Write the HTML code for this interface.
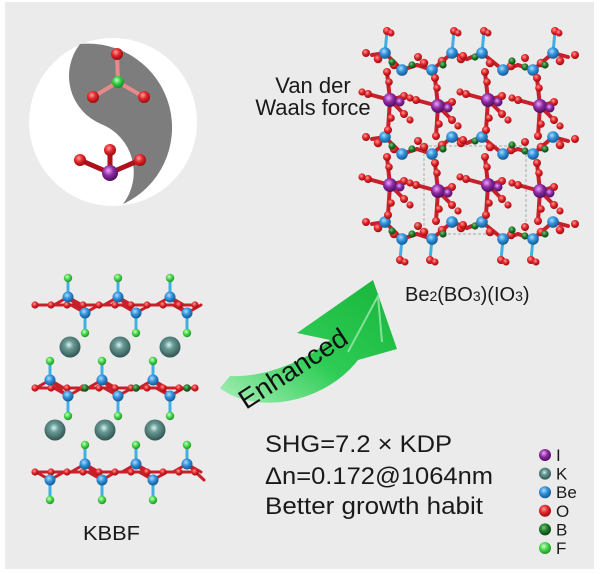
<!DOCTYPE html>
<html><head><meta charset="utf-8"><style>
html,body{margin:0;padding:0;background:#fff}
svg{display:block}
text{font-family:"Liberation Sans",sans-serif;fill:#1a1a1a}
</style></head><body>
<svg id="s" width="600" height="574" viewBox="0 0 600 574" xmlns="http://www.w3.org/2000/svg">
<defs>
<radialGradient id="gO" cx="40%" cy="35%" r="65%"><stop offset="0" stop-color="#ff9a9a"/><stop offset="0.5" stop-color="#e0262a"/><stop offset="1" stop-color="#9a0c10"/></radialGradient>
<radialGradient id="gBe" cx="40%" cy="35%" r="65%"><stop offset="0" stop-color="#a8dcff"/><stop offset="0.5" stop-color="#2f8fd8"/><stop offset="1" stop-color="#175a94"/></radialGradient>
<radialGradient id="gB" cx="40%" cy="35%" r="65%"><stop offset="0" stop-color="#7fc27f"/><stop offset="0.5" stop-color="#1f7a2a"/><stop offset="1" stop-color="#0b4412"/></radialGradient>
<radialGradient id="gBl" cx="40%" cy="35%" r="65%"><stop offset="0" stop-color="#c0ffc0"/><stop offset="0.5" stop-color="#33cc44"/><stop offset="1" stop-color="#1b8a26"/></radialGradient>
<radialGradient id="gF" cx="40%" cy="35%" r="65%"><stop offset="0" stop-color="#c8ffc8"/><stop offset="0.5" stop-color="#46d64a"/><stop offset="1" stop-color="#23942a"/></radialGradient>
<radialGradient id="gI" cx="40%" cy="35%" r="65%"><stop offset="0" stop-color="#f0a0ff"/><stop offset="0.5" stop-color="#8a2a9e"/><stop offset="1" stop-color="#4e0f5e"/></radialGradient>
<radialGradient id="gK" cx="45%" cy="40%" r="60%"><stop offset="0" stop-color="#d8f4f0"/><stop offset="0.35" stop-color="#6a9a96"/><stop offset="1" stop-color="#2f5552"/></radialGradient>
<linearGradient id="gArr" x1="0" y1="1" x2="1" y2="0"><stop offset="0" stop-color="#a8f0b8"/><stop offset="0.45" stop-color="#2ecc55"/><stop offset="1" stop-color="#18b43a"/></linearGradient>
</defs>
<rect x="0" y="0" width="600" height="574" fill="#fff"/>
<rect x="5" y="2" width="589" height="567" fill="#ebebeb"/>
<g id="yy">
<circle cx="113" cy="122" r="84" fill="#ffffff"/>
<path d="M80 44 A84 84 0 0 1 123 204 A52 52 0 0 0 101 124 A52 52 0 0 1 80 44 Z" fill="#7d7d7d"/>
</g>
<g id="mol"></g>
<g id="arrow">
<path d="M220 388 C252 414 322 406 358 360 L397 349 L373 280 L297 333 L330 340 C305 362 262 378 230 376 Z" fill="url(#gArr)"/>
<path d="M348 352 L378 296 L382 342" fill="none" stroke="#9ee8b0" stroke-width="2" opacity="0.8"/>
<text x="0" y="0" font-size="27" transform="translate(246,410) rotate(-33)" style="fill:#111" textLength="124" lengthAdjust="spacingAndGlyphs">Enhanced</text>
</g>
<text x="313" y="93" font-size="22" text-anchor="middle">Van der</text>
<text x="313" y="115" font-size="22" text-anchor="middle">Waals force</text>
<text x="405" y="301" font-size="20">Be<tspan font-size="14">2</tspan>(BO<tspan font-size="14">3</tspan>)(IO<tspan font-size="14">3</tspan>)</text>
<text x="83" y="540" font-size="20" textLength="57" lengthAdjust="spacingAndGlyphs">KBBF</text>
<text x="265" y="452" font-size="24" textLength="187" lengthAdjust="spacingAndGlyphs">SHG=7.2 × KDP</text>
<text x="265" y="484" font-size="24" textLength="228" lengthAdjust="spacingAndGlyphs">Δn=0.172@1064nm</text>
<text x="265" y="514" font-size="24" textLength="218" lengthAdjust="spacingAndGlyphs">Better growth habit</text>
<g id="leg"></g>
</svg>
<script>
var NS="http://www.w3.org/2000/svg";
var mol=document.getElementById('mol');
function el(t,a,p){var e=document.createElementNS(NS,t);for(var k in a)e.setAttribute(k,a[k]);(p||mol).appendChild(e);return e;}
var G={O:'url(#gO)',Be:'url(#gBe)',B:'url(#gB)',Bl:'url(#gBl)',F:'url(#gF)',I:'url(#gI)',K:'url(#gK)'};
var bonds=[],atoms=[];
function A(t,x,y,r){atoms.push([t,x,y,r]);}
function Bd(x1,y1,x2,y2,c,w){bonds.push([x1,y1,x2,y2,c,w||3]);}
Bd(118,82,117,54,'#e98a8a',4);Bd(118,82,93,97,'#e98a8a',4);Bd(118,82,144,97,'#e98a8a',4);
A('O',117,54,6);A('O',93,97,6);A('O',144,97,6);A('Bl',118,82,6);
Bd(110,173,80,160,'#b0101a',5);Bd(110,173,110,150,'#b0101a',5);Bd(110,173,140,160,'#b0101a',5);
A('O',80,160,6);A('O',110,150,6);A('O',140,160,6);A('I',110,173,8);
function layer(yc,up,dn,bx){
  var xs=[];for(var x=35;x<=207;x+=16)xs.push(x);
  for(var i=0;i<xs.length-1;i++)Bd(xs[i],yc,xs[i+1],yc,'#c8202a',3);
  up.forEach(function(x){Bd(x,yc-8,x,yc-27,'#3fb0e0',3);Bd(x,yc-8,x-14,yc,'#c8202a',3);Bd(x,yc-8,x+14,yc,'#c8202a',3);Bd(x,yc-8,x+17,yc+8,'#c8202a',3);});
  dn.forEach(function(x){Bd(x,yc+8,x,yc+28,'#3fb0e0',3);Bd(x,yc+8,x-14,yc,'#c8202a',3);Bd(x,yc+8,x+14,yc,'#c8202a',3);});
  xs.forEach(function(x){A('O',x,yc,3.6);});
  (bx||[]).forEach(function(x){A('B',x,yc,3.8);});
  up.forEach(function(x){A('Be',x,yc-8,5.5);A('F',x,yc-27,4.2);});
  dn.forEach(function(x){A('Be',x,yc+8,5.5);A('F',x,yc+28,4.2);});
}
layer(305,[68,118,170],[85,136,187]);
layer(388,[50,102,153],[68,118,170],[85,136,187]);
layer(472,[85,136,187],[50,102,153]);
[[70,347],[120,347],[170,347],[55,430],[105,430],[155,430]].forEach(function(p){A('K',p[0],p[1],10.5);});
[53,137,222].forEach(function(y0,r){
  var up=[385,452,482,553],dn=[402,432,503,533];
  var cx=[372,385,402,417,432,452,467,482,503,518,533,553,568];
  var cy=[y0+2,y0,y0+17,y0+12,y0+17,y0,y0+6,y0,y0+17,y0+12,y0+17,y0,y0+4];
  for(var i=0;i<cx.length-1;i++)Bd(cx[i],cy[i],cx[i+1],cy[i+1],'#c8202a',4);
  [[378,y0+6],[394,y0+12],[424,y0+10],[442,y0+8],[461,y0+6],[490,y0+10],[511,y0+13],[541,y0+10],[560,y0+8]].forEach(function(p){A('O',p[0],p[1],4.3);});
  [[392,y0+9],[412,y0+12],[443,y0+12],[475,y0+4],[512,y0+8],[525,y0+14],[545,y0+12]].forEach(function(p){A('B',p[0],p[1],3.6);});
  [[366,y0],[463,y0+3],[575,y0+2],[418,y0+4],[525,y0+5]].forEach(function(p){A('O',p[0],p[1],4);});
  up.forEach(function(x){A('Be',x,y0,5.8);});
  dn.forEach(function(x){A('Be',x,y0+17,5.8);});
  if(r==0){[385,452,482,553].forEach(function(x){Bd(x,y0,x+2,y0-22,'#3fb0e0',3);A('O',x+2,y0-22,4);A('O',x+6,y0-20,3.5);});}
  if(r==2){[402,432,503,533].forEach(function(x){Bd(x,y0+17,x-2,y0+38,'#3fb0e0',3);A('O',x-2,y0+38,4);A('O',x+3,y0+40,3.5);});}
});
[100,185].forEach(function(y){
  [390,438,488,540].forEach(function(x,k){
    var yy=y+(k%2?6:0);
    Bd(x,yy,x-3,yy-28,'#c8202a',4);Bd(x,yy,x-2,yy+30,'#c8202a',4);
    Bd(x,yy,x-22,yy-6,'#c8202a',4);Bd(x,yy,x+14,yy-4,'#c8202a',4);Bd(x,yy,x+14,yy+14,'#c8202a',4);
    A('O',x-3,yy-28,4);A('O',x-2,yy+30,4);A('O',x-1,yy-18,3.8);A('O',x+1,yy+18,3.8);
    A('O',x-22,yy-6,4);A('O',x-28,yy-8,3.6);A('O',x+14,yy-4,4);A('O',x+14,yy+14,4);A('O',x+20,yy+20,3.6);
    A('I',x,yy,7);A('I',x+10,yy+2,4.5);
  });
});
el('rect',{x:424,y:146,width:102,height:88,fill:'none',stroke:'#aaa','stroke-width':1,'stroke-dasharray':'3,2'});
bonds.forEach(function(b){el('line',{x1:b[0],y1:b[1],x2:b[2],y2:b[3],stroke:b[4],'stroke-width':b[5],'stroke-linecap':'round'});});
atoms.forEach(function(a){el('circle',{cx:a[1],cy:a[2],r:a[3],fill:G[a[0]]});});
var leg=document.getElementById('leg');
['I','K','Be','O','B','F'].forEach(function(p,i){
  var y=455+i*18.6;
  el('circle',{cx:545,cy:y,r:6,fill:G[p]},leg);
  var t=el('text',{x:556,y:y+6,'font-size':17},leg);t.textContent=p;
});
</script>
</body></html>
